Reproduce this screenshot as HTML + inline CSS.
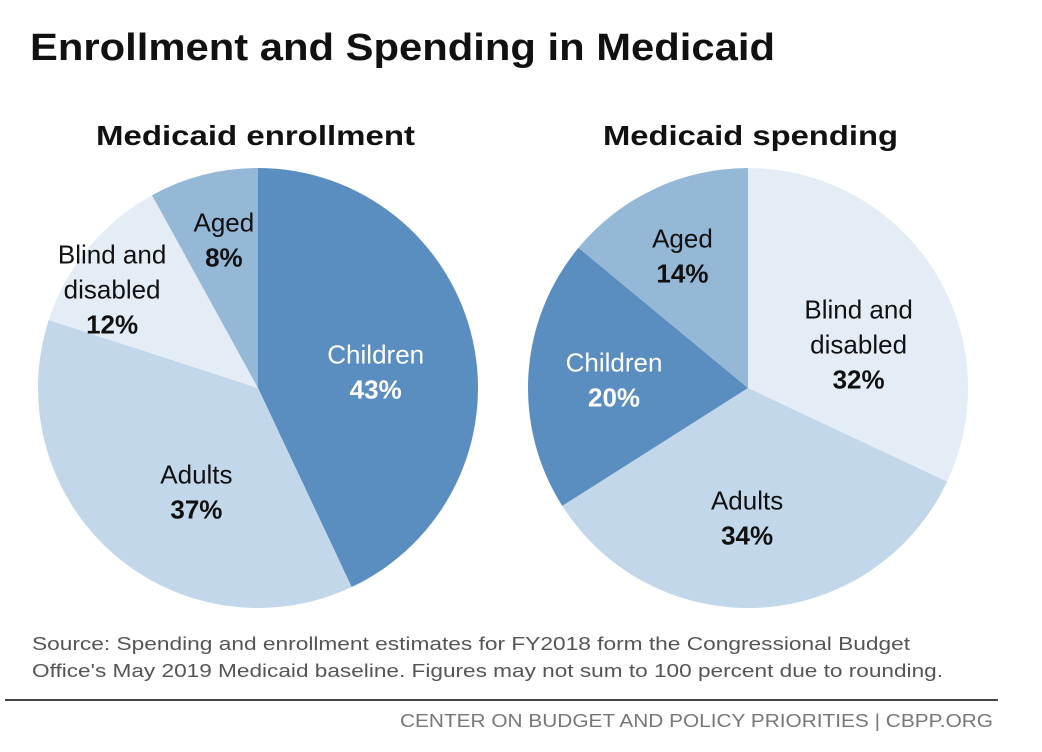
<!DOCTYPE html>
<html><head><meta charset="utf-8"><style>
body{margin:0;background:#fff;}
svg{display:block;font-family:"Liberation Sans",sans-serif;}
</style></head><body>
<svg width="1042" height="752" viewBox="0 0 1042 752">
<text x="30" y="60" font-size="38" font-weight="bold" fill="#111" textLength="745" lengthAdjust="spacingAndGlyphs">Enrollment and Spending in Medicaid</text>
<text x="96" y="145" font-size="28" font-weight="bold" fill="#111" textLength="319" lengthAdjust="spacingAndGlyphs">Medicaid enrollment</text>
<text x="603" y="145" font-size="28" font-weight="bold" fill="#111" textLength="295" lengthAdjust="spacingAndGlyphs">Medicaid spending</text>
<g id="pies"></g>
<g id="labels"></g>
<text x="32" y="650" font-size="18" fill="#555" textLength="878" lengthAdjust="spacingAndGlyphs">Source: Spending and enrollment estimates for FY2018 form the Congressional Budget</text>
<text x="32" y="677" font-size="18" fill="#555" textLength="911" lengthAdjust="spacingAndGlyphs">Office's May 2019 Medicaid baseline. Figures may not sum to 100 percent due to rounding.</text>
<line x1="5" y1="700" x2="998" y2="700" stroke="#444" stroke-width="2"/>
<text x="993" y="727" font-size="18" fill="#777" text-anchor="end" textLength="593" lengthAdjust="spacingAndGlyphs">CENTER ON BUDGET AND POLICY PRIORITIES | CBPP.ORG</text>
</svg>
<script>
const enrollCategories = ["Children","Adults","Blind and disabled","Aged"];
const enrollValues = [43,37,12,8];
const spendCategories = ["Blind and disabled","Adults","Children","Aged"];
const spendValues = [32,34,20,14];
const colorMap = {"Children":"#5a8ec0","Adults":"#c2d7ea","Blind and disabled":"#e4edf6","Aged":"#95b8d7"};
const NS="http://www.w3.org/2000/svg";
const g=document.getElementById('pies');
const gl=document.getElementById('labels');
function drawPie(cx,cy,r,cats,vals,prefix,labelR,labelDA){
  const total=vals.reduce((a,b)=>a+b,0);
  let a0=0;
  cats.forEach((c,i)=>{
    const a1=a0+vals[i]/total*2*Math.PI;
    const x0=cx+r*Math.sin(a0),y0=cy-r*Math.cos(a0),x1=cx+r*Math.sin(a1),y1=cy-r*Math.cos(a1);
    const large=(a1-a0)>Math.PI?1:0;
    const p=document.createElementNS(NS,'path');
    p.setAttribute('d',`M${cx},${cy}L${x0},${y0}A${r},${r} 0 ${large} 1 ${x1},${y1}Z`);
    p.setAttribute('fill',colorMap[c]);
    
    
    g.appendChild(p);
    const am=(a0+a1)/2+labelDA[i]*Math.PI/180;
    const lr=r*labelR[i];
    const lx=cx+lr*Math.sin(am),ly=cy-lr*Math.cos(am);
    const dark=c==="Children";
    const words=c==="Blind and disabled"?["Blind and","disabled"]:[c];
    const lines=words.concat([vals[i]+"%"]);
    const t=document.createElementNS(NS,'text');
    t.setAttribute('text-anchor','middle');
    t.setAttribute('font-size','26');
    t.setAttribute('fill',dark?'#fff':'#111');
    
    
    const startY=ly-(lines.length-1)*17.5+9;
    lines.forEach((s,k)=>{
      const ts=document.createElementNS(NS,'tspan');
      ts.setAttribute('x',lx);ts.setAttribute('y',startY+k*35);
      if(k===lines.length-1)ts.setAttribute('font-weight','bold');
      ts.textContent=s;t.appendChild(ts);
    });
    gl.appendChild(t);
    a0=a1;
  });
}
drawPie(258,388,220,enrollCategories,enrollValues,'enrollment',[0.54,0.55,0.8,0.69],[4.8,-10.8,-5.6,1.4]);
drawPie(748,388,220,spendCategories,spendValues,'spending',[0.54,0.59,0.61,0.67],[11,4,-0.2,-1.2]);
</script>
</body></html>
